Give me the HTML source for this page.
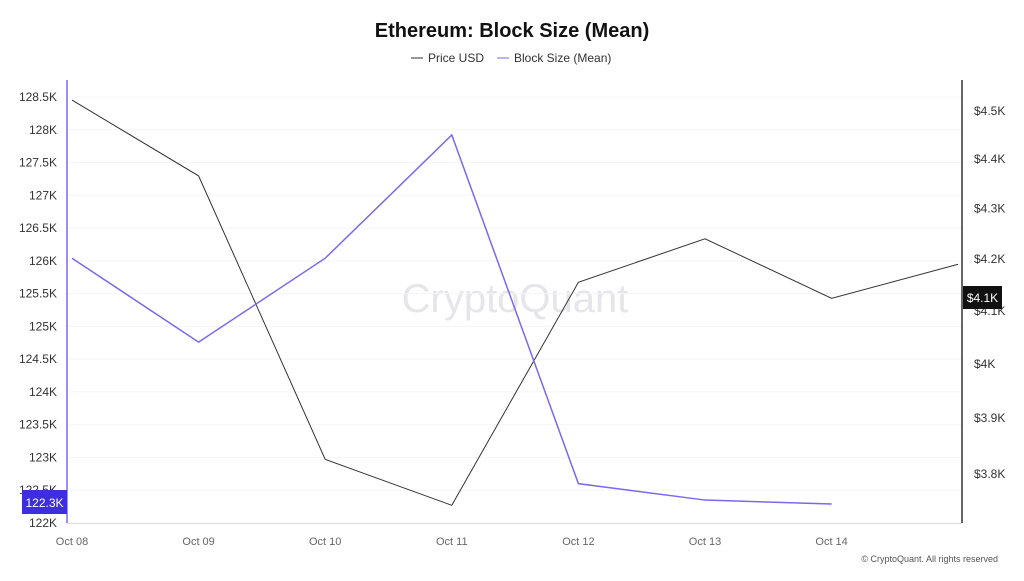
<!DOCTYPE html>
<html><head><meta charset="utf-8">
<style>
body{margin:0;width:1024px;height:576px;background:#fff;font-family:"Liberation Sans",sans-serif;overflow:hidden}
</style></head><body>
<svg width="1024" height="576" xmlns="http://www.w3.org/2000/svg">
<text x="512" y="37" text-anchor="middle" font-size="20" font-weight="bold" fill="#111">Ethereum: Block Size (Mean)</text>
<g font-size="12" fill="#333">
<g><line x1="411" y1="58" x2="423" y2="58" stroke="#333"/><text x="428" y="62">Price USD</text></g>
<g><line x1="497" y1="58" x2="509" y2="58" stroke="#7b68ee"/><text x="514" y="62">Block Size (Mean)</text></g>
</g>
<text x="515" y="312" text-anchor="middle" font-size="40" fill="#e6e6ea">CryptoQuant</text>
<g id="grid"></g><g id="lticks" font-size="12" fill="#333"></g><g id="rticks" font-size="12" fill="#333"></g><g id="xticks" font-size="11" fill="#666"></g>
<line x1="67" y1="80" x2="67" y2="523" stroke="#7b68ee" stroke-width="1.5"/>
<line x1="962" y1="80" x2="962" y2="523" stroke="#333" stroke-width="1.5"/>
<line x1="67" y1="523.5" x2="962" y2="523.5" stroke="#ddd"/>
<polyline id="price" fill="none" stroke="#333" stroke-width="1"/>
<polyline id="block" fill="none" stroke="#7b68ee" stroke-width="1.5"/>
<g><rect x="22" y="490" width="45" height="24" fill="#3d2ee0"/><text x="44.5" y="507" text-anchor="middle" font-size="12" fill="#fff">122.3K</text></g>
<g><rect x="963" y="286" width="39" height="23" fill="#111"/><text x="982.5" y="302" text-anchor="middle" font-size="12" fill="#fff">$4.1K</text></g>
<text x="998" y="562" text-anchor="end" font-size="9" fill="#555">© CryptoQuant. All rights reserved</text>
</svg>
<script>
const categories=["Oct 08","Oct 09","Oct 10","Oct 11","Oct 12","Oct 13","Oct 14",""];
const priceValues=[4523,4366,3826,3745,4155,4240,4124,4190];
const blockValues=[126040,124760,126040,127920,122600,122350,122290];
const leftTicks=[122000,122500,123000,123500,124000,124500,125000,125500,126000,126500,127000,127500,128000,128500];
const leftLabels=["122K","122.5K","123K","123.5K","124K","124.5K","125K","125.5K","126K","126.5K","127K","127.5K","128K","128.5K"];
const rightTicks=[3800,3900,4000,4100,4200,4300,4400,4500];
const rightLabels=["$3.8K","$3.9K","$4K","$4.1K","$4.2K","$4.3K","$4.4K","$4.5K"];
const ns="http://www.w3.org/2000/svg";
const xS=i=>72+i*126.6;
const yL=v=>523-(v-122000)*0.06554;
const yR=v=>111+Math.log(4500/v)*2147;
function mk(t,a,p){const e=document.createElementNS(ns,t);for(const k in a)e.setAttribute(k,a[k]);document.getElementById(p).appendChild(e);return e;}
leftTicks.forEach((v,i)=>{
 const g=mk("line",{x1:67,x2:962,y1:yL(v),y2:yL(v),stroke:"#f5f5f5"},"grid");
 
 
 const t=mk("text",{x:57,y:yL(v)+4,"text-anchor":"end"},"lticks");t.textContent=leftLabels[i];
 
 
});
rightTicks.forEach((v,i)=>{
 const t=mk("text",{x:974,y:yR(v)+4},"rticks");t.textContent=rightLabels[i];
 
 
});
categories.forEach((c,i)=>{
 if(!c)return;
 const t=mk("text",{x:xS(i),y:545,"text-anchor":"middle"},"xticks");t.textContent=c;
 
 
});
document.getElementById("price").setAttribute("points",priceValues.map((v,i)=>xS(i)+","+yR(v)).join(" "));
document.getElementById("block").setAttribute("points",blockValues.map((v,i)=>xS(i)+","+yL(v)).join(" "));
</script>
</body></html>
